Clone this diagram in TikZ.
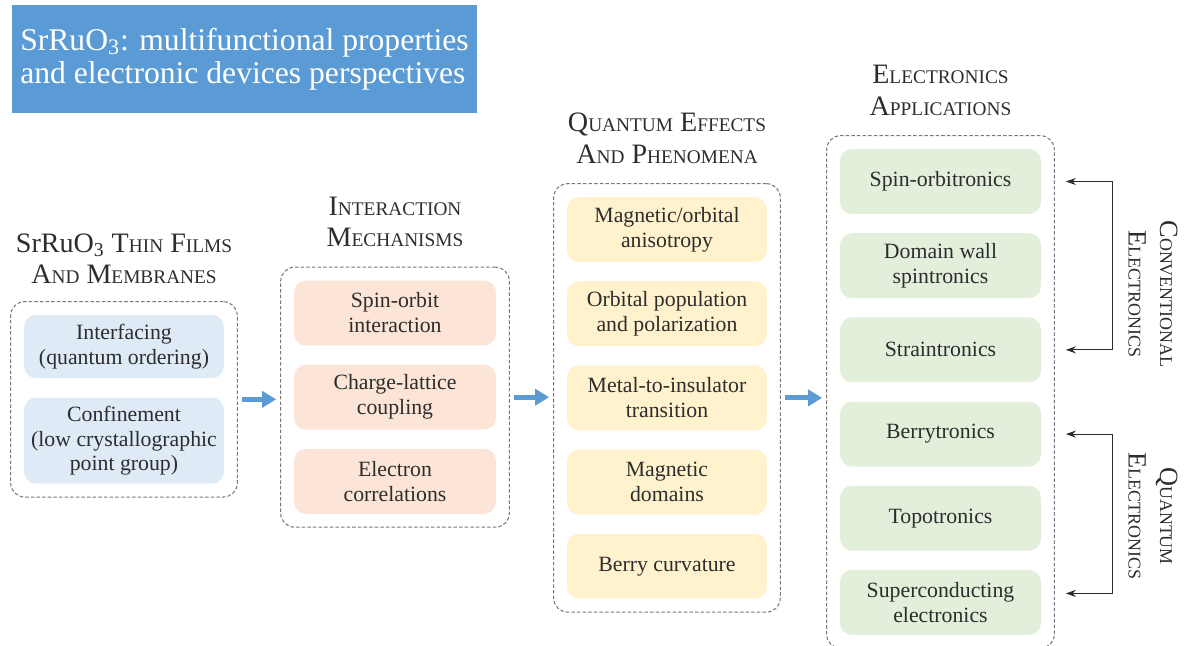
\documentclass[tikz,border=0pt]{standalone}
\usepackage{fontspec}
\setmainfont{Liberation Serif}
\usetikzlibrary{positioning, fit, calc, arrows.meta}

\definecolor{titleblue}{RGB}{91,155,213}
\definecolor{filmblue}{RGB}{222,235,247}
\definecolor{mechorange}{RGB}{252,228,214}
\definecolor{effyellow}{RGB}{255,242,204}
\definecolor{appgreen}{RGB}{226,239,218}
\definecolor{inkgray}{RGB}{45,45,45}
\definecolor{framegray}{RGB}{120,120,120}

\newcommand{\capsc}[2]{{\fontsize{16}{18}\selectfont #1}{\fontsize{11}{18}\selectfont #2}}
\newcommand{\sidesc}[2]{{\fontsize{15}{18}\selectfont #1}{\fontsize{10.2}{18}\selectfont #2}}

\tikzset{
    item/.style={rectangle, rounded corners=0.24cm, minimum width=4cm, minimum height=1.3cm,
        align=center, inner sep=2pt, text=inkgray, font=\fontsize{12.4}{14.2}\selectfont},
    film/.style={item, fill=filmblue},
    mech/.style={item, fill=mechorange, minimum width=4.04cm},
    effect/.style={item, fill=effyellow},
    app/.style={item, fill=appgreen, minimum width=4.02cm},
    group/.style={draw=framegray, dash pattern=on 2pt off 1.2pt, line width=0.6pt,
        rounded corners=0.28cm, inner sep=0.26cm},
    heading/.style={align=center, text=inkgray, font=\fontsize{16}{18}\selectfont},
    flow/.style={draw=titleblue, line width=2.8pt, -{Triangle[length=0.28cm, width=0.32cm]},
        shorten <=0.08cm, shorten >=0.08cm},
    bracket/.style={draw=inkgray, line width=0.6pt,
        {Stealth[length=0.2cm, width=0.14cm]}-{Stealth[length=0.2cm, width=0.14cm]}},
}

\begin{document}
\begin{tikzpicture}[x=0.02cm, y=-0.02cm]
    \useasboundingbox (0,0) rectangle (1188,646);

    \node[fill=titleblue, text=white, minimum width=9.3cm, minimum height=2.16cm, align=left,
        font=\fontsize{18}{19}\selectfont] (title) at (244.5,59)
        {SrRuO\textsubscript{3}: multifunctional properties\\and electronic devices perspectives};

    % thin films and membranes
    \node[film, minimum height=1.26cm] (f1) at (124,346.5) {Interfacing\\(quantum ordering)};
    \node[film, minimum height=1.72cm, below=0.38cm of f1] (f2) {Confinement\\(low crystallographic\\point group)};
    \node[group, fit=(f1)(f2)] (films) {};
    \node[heading, above=0.22cm of films] {SrRuO\textsubscript{3} \capsc{T}{HIN} \capsc{F}{ILMS}\\\capsc{A}{ND} \capsc{M}{EMBRANES}};

    % interaction mechanisms
    \node[mech] (m1) at (395,313) {Spin-orbit\\interaction};
    \node[mech, below=0.37cm of m1] (m2) {Charge-lattice\\coupling};
    \node[mech, below=0.37cm of m2] (m3) {Electron\\correlations};
    \node[group, fit=(m1)(m3)] (mechs) {};
    \node[heading, above=0.27cm of mechs] {\capsc{I}{NTERACTION}\\\capsc{M}{ECHANISMS}};

    % quantum effects
    \node[effect] (e1) at (667,229.5) {Magnetic/orbital\\anisotropy};
    \node[effect, below=0.37cm of e1] (e2) {Orbital population\\and polarization};
    \node[effect, below=0.37cm of e2] (e3) {Metal-to-insulator\\transition};
    \node[effect, below=0.37cm of e3] (e4) {Magnetic\\domains};
    \node[effect, below=0.37cm of e4] (e5) {Berry curvature};
    \node[group, fit=(e1)(e5)] (effects) {};
    \node[heading, above=0.27cm of effects] {\capsc{Q}{UANTUM} \capsc{E}{FFECTS}\\\capsc{A}{ND} \capsc{P}{HENOMENA}};

    % applications
    \node[app] (a1) at (940.5,181.5) {Spin-orbitronics};
    \node[app, below=0.37cm of a1] (a2) {Domain wall\\spintronics};
    \node[app, below=0.37cm of a2] (a3) {Straintronics};
    \node[app, below=0.37cm of a3] (a4) {Berrytronics};
    \node[app, below=0.37cm of a4] (a5) {Topotronics};
    \node[app, below=0.37cm of a5] (a6) {Superconducting\\electronics};
    \node[group, fit=(a1)(a6)] (apps) {};
    \node[heading, above=0.27cm of apps] {\capsc{E}{LECTRONICS}\\\capsc{A}{PPLICATIONS}};

    \draw[flow] (films.east) -- (films.east -| mechs.west);
    \draw[flow] (mechs.east) -- (mechs.east -| effects.west);
    \draw[flow] (effects.east) -- (effects.east -| apps.west);

    % conventional / quantum brackets
    \draw[bracket] ($(a1.east -| apps.east)+(11,0)$) -- ++(47,0) |- ($(a3.east -| apps.east)+(11,0)$);
    \draw[bracket] ($(a4.east -| apps.east)+(11,0)$) -- ++(47,0) |- ($(a6.east -| apps.east)+(11,-9)$);
    \node[heading, rotate=-90] (conv) at (1153,294) {\sidesc{C}{ONVENTIONAL}\\\sidesc{E}{LECTRONICS}};
    \node[heading, rotate=-90] (quant) at (1153,516) {\sidesc{Q}{UANTUM}\\\sidesc{E}{LECTRONICS}};
\end{tikzpicture}
\end{document}
